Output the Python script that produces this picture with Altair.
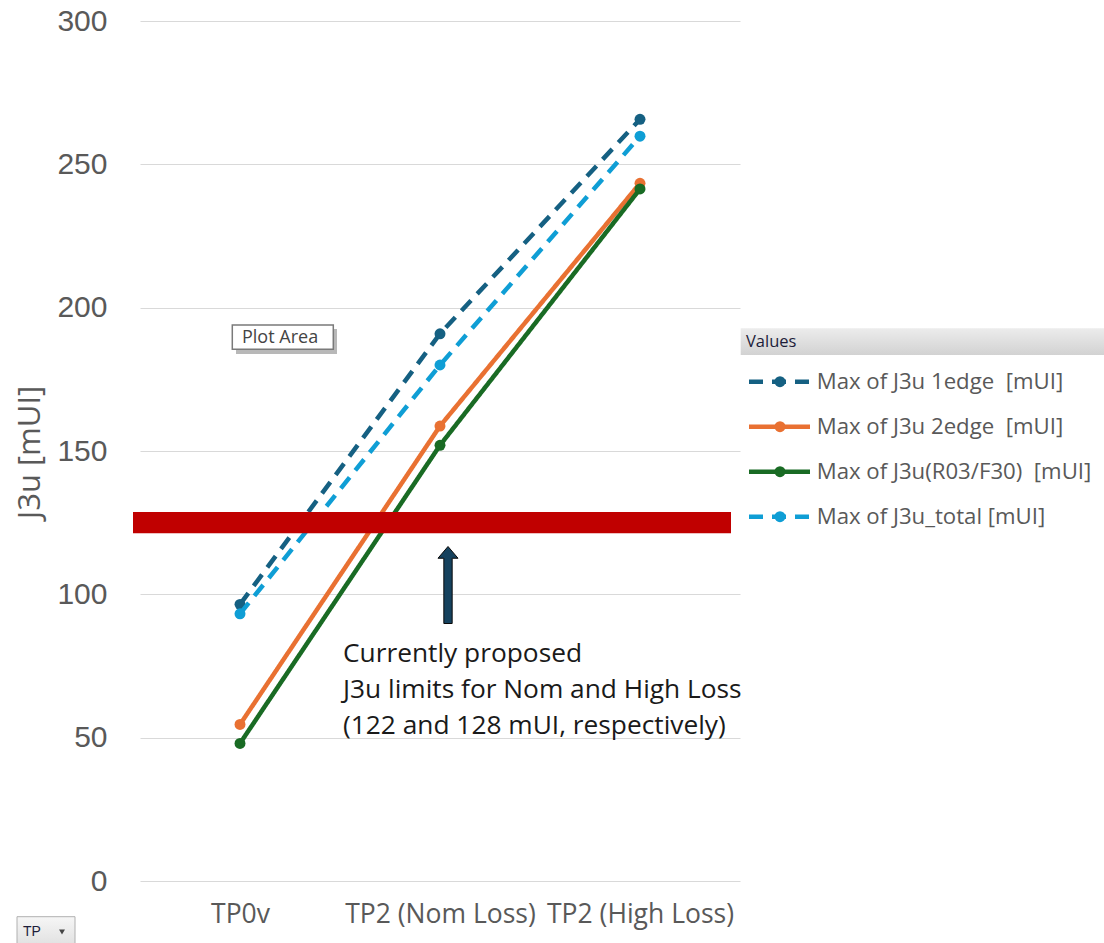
import altair as alt
import pandas as pd

# Test points along the x axis
tp = ["TP0v", "TP2 (Nom Loss)", "TP2 (High Loss)"]

# Series names (legend order) and their maxima per test point, in mUI
series = [
    "Max of J3u 1edge\u00a0 [mUI]",
    "Max of J3u 2edge\u00a0 [mUI]",
    "Max of J3u(R03/F30)\u00a0 [mUI]",
    "Max of J3u_total [mUI]",
]
j3u_1edge = [96.5, 190.9, 265.7]
j3u_2edge = [54.6, 158.7, 243.4]
j3u_r03f30 = [48.0, 152.0, 241.4]
j3u_total = [93.2, 180.0, 259.8]

colors = ["#156082", "#E97132", "#196B24", "#0F9ED5"]
dashes = [[14, 9], [1, 0], [1, 0], [14, 9]]

# Proposed limits (Nom / High Loss)
limit_lo, limit_hi = 122, 128
note_lines = [
    "Currently proposed",
    "J3u limits for Nom and High Loss",
    "(122 and 128 mUI, respectively)",
]

rows = []
for name, vals in zip(series, [j3u_1edge, j3u_2edge, j3u_r03f30, j3u_total]):
    for t, v in zip(tp, vals):
        rows.append({"tp": t, "series": name, "value": v})
df = pd.DataFrame(rows)

W, H = 600, 860
yscale = alt.Scale(domain=[0, 300], nice=False, zero=True)
xscale = alt.Scale(type="point", domain=tp, padding=0.5)
cscale = alt.Scale(domain=series, range=colors)
dscale = alt.Scale(domain=series, range=dashes)

x_enc = alt.X(
    "tp:N",
    scale=xscale,
    axis=alt.Axis(
        title=None, labelAngle=0, domain=False, ticks=False, tickSize=0,
        labelPadding=20, labelFont="Open Sans", labelFontSize=26.5,
        labelColor="#595959", labelBaseline="top", grid=False,
        labelLimit=400, labelOverlap=False,
    ),
)

y_axis = alt.Axis(
    title="J3u [mUI]", values=[0, 50, 100, 150, 200, 250, 300],
    domain=False, ticks=False, tickSize=0, labelPadding=33,
    labelFont="Liberation Sans", labelFontSize=30, labelColor="#595959",
    grid=True, gridColor="#d9d9d9", gridWidth=1,
    titleFont="Open Sans", titleFontSize=31, titleFontWeight="normal",
    titleColor="#595959", titleAngle=-90, titleAlign="center",
    titleBaseline="middle", titleX=-110, titleY=431,
)

layers = []
for i, name in enumerate(series):
    sub = df[df["series"] == name]
    color = alt.Color("series:N", scale=cscale, legend=None)
    line = alt.Chart(sub).mark_line(strokeWidth=4.5, strokeCap="butt").encode(
        x=x_enc,
        y=alt.Y("value:Q", scale=yscale, axis=y_axis if i == 0 else None),
        color=color,
        strokeDash=alt.StrokeDash("series:N", scale=dscale, legend=None),
    )
    pts = alt.Chart(sub).mark_point(filled=True, size=120, opacity=1).encode(
        x=x_enc,
        y=alt.Y("value:Q", scale=yscale, axis=None),
        color=color,
    )
    layers += [line, pts]

one = pd.DataFrame({"k": [0]})

# Limit band
band = alt.Chart(pd.DataFrame({"lo": [limit_lo], "hi": [limit_hi]})).mark_rect(
    color="#C00000", stroke="#C00000", strokeWidth=4
).encode(
    x=alt.value(-5), x2=alt.value(589),
    y=alt.Y("lo:Q", scale=yscale, axis=None), y2="hi:Q",
)
layers.append(band)

# Arrow pointing at the band
arrow_path = "M0,-1L0.26,-0.695L0.108,-0.695L0.108,1L-0.108,1L-0.108,-0.695L-0.26,-0.695Z"
arrow = alt.Chart(one).mark_point(
    shape=arrow_path, filled=True, size=77 * 77, fill="#16425e",
    stroke="#0a0a0a", strokeWidth=1, opacity=1,
).encode(x=alt.value(308), y=alt.value(564))
layers.append(arrow)

note = alt.Chart(one).mark_text(
    text=note_lines, align="left", baseline="alphabetic", lineHeight=36,
    font="Open Sans", fontSize=26.3, color="#1a1a1a",
).encode(x=alt.value(203), y=alt.value(641))
layers.append(note)

# "Plot Area" hover label
tip_shadow = alt.Chart(one).mark_rect(color="#9a9a9a", opacity=0.7).encode(
    x=alt.value(96), x2=alt.value(197), y=alt.value(308), y2=alt.value(333)
)
tip_box = alt.Chart(one).mark_rect(fill="white", stroke="#7a7a7a", strokeWidth=1.5).encode(
    x=alt.value(92.3), x2=alt.value(193.3), y=alt.value(304), y2=alt.value(328.3)
)
tip_text = alt.Chart(one).mark_text(
    text="Plot Area", align="left", baseline="middle", font="Open Sans",
    fontSize=18, color="#444444",
).encode(x=alt.value(102), y=alt.value(317))
layers += [tip_shadow, tip_box, tip_text]

# Legend header bar
hdr_grad = alt.LinearGradient(
    gradient="linear", x1=0, x2=0, y1=0, y2=1,
    stops=[alt.GradientStop(color="#ececec", offset=0),
           alt.GradientStop(color="#d2d2d2", offset=1)],
)
hdr = alt.Chart(one).mark_rect(fill=hdr_grad).encode(
    x=alt.value(600.7), x2=alt.value(964), y=alt.value(307.3), y2=alt.value(334)
)
hdr_text = alt.Chart(one).mark_text(
    text="Values", align="left", baseline="middle", font="Open Sans",
    fontSize=16.5, color="#1d1d3a",
).encode(x=alt.value(606), y=alt.value(321))
layers += [hdr, hdr_text]

# Legend rows
leg = pd.DataFrame({"series": series})
leg_y = alt.Y("series:N", scale=alt.Scale(type="point", domain=series,
                                          range=[360.7, 495.7], padding=0), axis=None)
leg_color = alt.Color("series:N", scale=cscale, legend=None)
leg_line = alt.Chart(leg).mark_rule(strokeWidth=4.5).encode(
    x=alt.value(609), x2=alt.value(670), y=leg_y, color=leg_color,
    strokeDash=alt.StrokeDash("series:N", scale=dscale, legend=None),
)
leg_pt = alt.Chart(leg).mark_point(filled=True, size=120, opacity=1).encode(
    x=alt.value(640), y=leg_y, color=leg_color
)
leg_txt = alt.Chart(leg).mark_text(
    align="left", baseline="middle", font="Open Sans", fontSize=22.2, color="#595959"
).encode(x=alt.value(676.7), y=leg_y, text="series:N")
layers += [leg_line, leg_pt, leg_txt]

# Field button at the bottom left
btn_grad = alt.LinearGradient(
    gradient="linear", x1=0, x2=0, y1=0, y2=1,
    stops=[alt.GradientStop(color="#f6f6f6", offset=0),
           alt.GradientStop(color="#d9d9d9", offset=1)],
)
btn = alt.Chart(one).mark_rect(fill=btn_grad, stroke="#b0b0b0", strokeWidth=1).encode(
    x=alt.value(-123), x2=alt.value(-65), y=alt.value(895.7), y2=alt.value(935)
)
btn_text = alt.Chart(one).mark_text(
    text="TP", align="left", baseline="middle", font="Liberation Sans",
    fontSize=14, color="#1d1d3a",
).encode(x=alt.value(-117), y=alt.value(911))
btn_arrow = alt.Chart(one).mark_point(
    shape="triangle-down", filled=True, size=35, color="#444444", opacity=1
).encode(x=alt.value(-78), y=alt.value(911))
layers += [btn, btn_text, btn_arrow]

chart = alt.layer(*layers).resolve_scale(y="independent").properties(
    width=W, height=H,
    autosize=alt.AutoSizeParams(type="none"),
    padding={"left": 140, "top": 21, "right": 364, "bottom": 62},
    background="white",
).configure_view(stroke=None)

chart.save("out.html", embed_options={"renderer": "svg", "actions": False})
